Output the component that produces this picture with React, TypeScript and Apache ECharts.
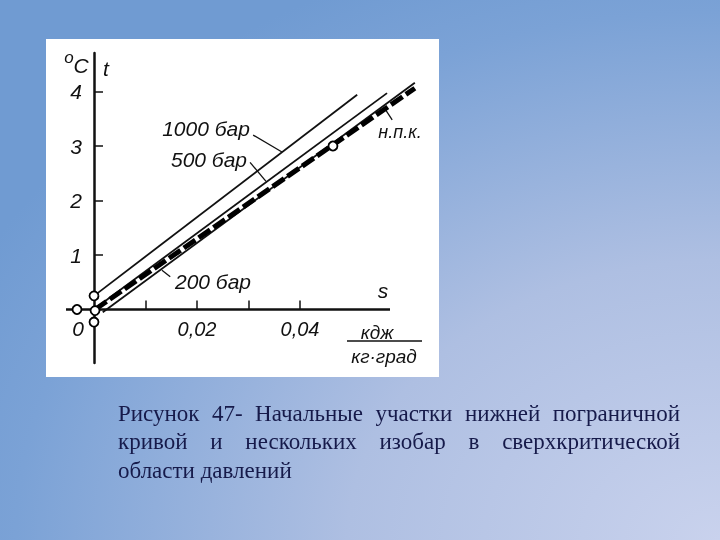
import React, { useEffect, useRef } from "react";
import * as echarts from "echarts";

// ---- data (s in кдж/(кг·град), t in °C) ----
const xTickValues = [0.01, 0.02, 0.03, 0.04];
const xLabelValues = [0.02, 0.04];
const yTickValues = [1, 2, 3, 4];

const isobar1000 = [[0, 0.25], [0.0511, 3.94]];
const isobar500 = [[0.0002, 0.02], [0.0569, 3.97]];
const isobar200 = [[0.0017, -0.05], [0.0623, 4.16]];
const boundaryCurve = [[0.0002, 0], [0.0623, 4.06]];
const startPoints = [[-0.0033, 0], [0, 0.25], [0.0002, -0.02], [0, -0.23], [0.0464, 3.0]];

const leader1000 = [[0.0309, 3.2], [0.0365, 2.89]];
const leader500 = [[0.0303, 2.7], [0.0334, 2.35]];
const leader200 = [[0.0148, 0.6], [0.0132, 0.72]];
const leaderNpk = [[0.0579, 3.48], [0.0565, 3.68]];

const captionLines = [
  "Рисунок 47- Начальные участки нижней пограничной",
  "кривой и нескольких изобар в сверхкритической",
  "области давлений",
];

// ---- layout ----
const AX_LEFT = 66, AX_RIGHT = 390, ORIGIN_X = 94, PX_PER_S = 5150, PLOT_RIGHT = 430;
const AX_TOP = 53, AX_BOTTOM = 363, ORIGIN_Y = 309.5, PX_PER_T = 54.5;
const X_MIN = -(ORIGIN_X - AX_LEFT) / PX_PER_S;
const X_AXIS_END = (AX_RIGHT - ORIGIN_X) / PX_PER_S;
const X_MAX = (PLOT_RIGHT - ORIGIN_X) / PX_PER_S;
const Y_MAX = (ORIGIN_Y - AX_TOP) / PX_PER_T;
const Y_MIN = -(AX_BOTTOM - ORIGIN_Y) / PX_PER_T;
const xAxisLine = [[X_MIN, 0], [X_AXIS_END, 0]];

const SANS = '"Liberation Sans", "DejaVu Sans", sans-serif';
const SERIF = '"Liberation Serif", "DejaVu Serif", serif';
const INK = "#111";
const CAPTION_COLOR = "#161a4a";

function chartText(text: string, x: number, y: number, size: number, align = "center") {
  return {
    type: "text",
    z: 10,
    silent: true,
    style: {
      text, x, y, fill: INK, fontSize: size, fontFamily: SANS, fontStyle: "italic",
      align, verticalAlign: "middle",
    },
  };
}

function buildCaption(): any[] {
  const size = 23;
  const left = 118, right = 680, top = 413, lh = 28.5;
  const canvas = document.createElement("canvas");
  const ctx = canvas.getContext("2d")!;
  ctx.font = `${size}px "Liberation Serif"`;
  const els: any[] = [];
  captionLines.forEach((line, i) => {
    const y = top + i * lh;
    const base = { fill: CAPTION_COLOR, fontSize: size, fontFamily: SERIF, verticalAlign: "middle", align: "left" };
    if (i === captionLines.length - 1) {
      els.push({ type: "text", z: 10, silent: true, style: { ...base, text: line, x: left, y } });
      return;
    }
    const words = line.split(" ");
    const widths = words.map((w) => ctx.measureText(w).width);
    const total = widths.reduce((a, b) => a + b, 0);
    const gap = (right - left - total) / (words.length - 1);
    let x = left;
    words.forEach((w, k) => {
      els.push({ type: "text", z: 10, silent: true, style: { ...base, text: w, x, y } });
      x += widths[k] + gap;
    });
  });
  return els;
}

function thinLine(name: string, data: number[][], width = 1.8) {
  return {
    name, type: "line", data, symbol: "none", clip: false, silent: true,
    lineStyle: { color: INK, width }, z: 3,
  };
}

export default function App() {
  const ref = useRef<HTMLDivElement>(null);
  useEffect(() => {
    if (!ref.current) return;
    const chart = echarts.init(ref.current, null, { renderer: "svg" });
    const baseGraphic: any[] = [
      {
        type: "rect", z: -20, silent: true,
        shape: { x: 0, y: 0, width: 720, height: 540 },
        style: {
          fill: new echarts.graphic.RadialGradient(1, 1, 1.15, [
            { offset: 0, color: "#c9d2ed" },
            { offset: 0.45, color: "#aebfe2" },
            { offset: 0.85, color: "#7ba2d6" },
            { offset: 1, color: "#709bd2" },
          ]),
        },
      },
      {
        type: "rect", z: -10, silent: true,
        shape: { x: 46, y: 39, width: 393, height: 338 },
        style: { fill: "#fff" },
      },
      // axis annotations
      chartText("o", 69, 57, 17),
      chartText("C", 81, 65, 21),
      chartText("t", 106, 68, 21),
      chartText("0", 78, 328, 21),
      chartText("s", 383, 290, 21),
      chartText("кдж", 377, 332, 19),
      { type: "line", z: 10, silent: true, shape: { x1: 347, y1: 341, x2: 422, y2: 341 }, style: { stroke: INK, lineWidth: 1.5 } },
      chartText("кг·град", 384, 356, 19),
      // curve labels
      chartText("1000 бар", 206, 128, 21),
      chartText("500 бар", 209, 159, 21),
      chartText("200 бар", 213, 281, 21),
      chartText("н.п.к.", 400, 132, 18),
      ...buildCaption(),
    ];
    chart.setOption({
      animation: false,
      grid: { left: AX_LEFT, top: AX_TOP, width: PLOT_RIGHT - AX_LEFT, height: AX_BOTTOM - AX_TOP, containLabel: false },
      xAxis: {
        type: "value", min: X_MIN, max: X_MAX,
        axisLine: { show: true, onZero: true, lineStyle: { color: INK, width: 2.5, opacity: 0 } },
        axisTick: { show: true, inside: true, length: 9, customValues: xTickValues, lineStyle: { color: INK, width: 1.5 } },
        axisLabel: { show: false },
        splitLine: { show: false },
      },
      yAxis: {
        type: "value", min: Y_MIN, max: Y_MAX,
        axisLine: { show: true, onZero: true, lineStyle: { color: INK, width: 2.5 } },
        axisTick: { show: true, inside: true, length: 9, customValues: yTickValues, lineStyle: { color: INK, width: 1.5 } },
        axisLabel: { show: false },
        splitLine: { show: false },
      },
      series: [
        { ...thinLine("x-axis", xAxisLine, 2.5), z: 2 },
        thinLine("1000 бар", isobar1000),
        thinLine("500 бар", isobar500),
        thinLine("200 бар", isobar200),
        {
          name: "н.п.к.", type: "line", data: boundaryCurve, symbol: "none", clip: false, silent: true,
          lineStyle: { color: "#000", width: 5, type: [14, 4] }, z: 4,
        },
        thinLine("leader1000", leader1000, 1.3),
        thinLine("leader500", leader500, 1.3),
        thinLine("leader200", leader200, 1.3),
        thinLine("leaderNpk", leaderNpk, 1.3),
        {
          name: "points", type: "scatter", data: startPoints, symbol: "circle", symbolSize: 9,
          itemStyle: { color: "#fff", borderColor: "#000", borderWidth: 1.8, opacity: 1 }, z: 6, clip: false, silent: true,
        },
      ],
      graphic: baseGraphic,
    });

    // tick labels placed through the axes' own scales
    const tickLabels: any[] = [];
    yTickValues.forEach((v) => {
      const p = chart.convertToPixel({ gridIndex: 0 }, [0, v]) as number[];
      tickLabels.push(chartText(String(v), p[0] - 12, p[1], 21, "right"));
    });
    xLabelValues.forEach((v) => {
      const p = chart.convertToPixel({ gridIndex: 0 }, [v, 0]) as number[];
      tickLabels.push(chartText(v.toFixed(2).replace(".", ","), p[0], p[1] + 19, 20));
    });
    chart.setOption({ graphic: [...baseGraphic, ...tickLabels] });

    return () => chart.dispose();
  }, []);
  return (
    <div
      ref={ref}
      style={{ position: "fixed", left: 0, top: 0, width: 720, height: 540 }}
    />
  );
}
